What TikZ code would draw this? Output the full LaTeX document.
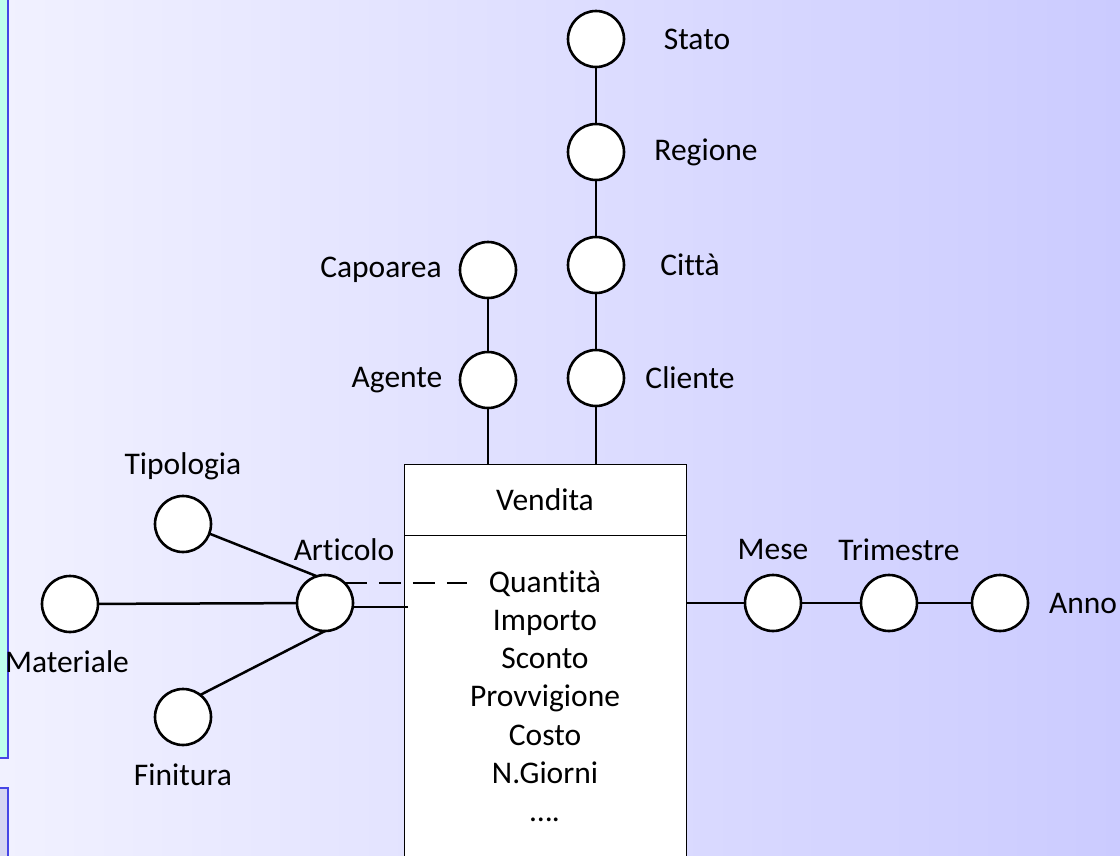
\documentclass[tikz,border=0pt]{standalone}
\usepackage{fontspec}
\setmainfont{Carlito}[Ligatures=NoCommon]
\usetikzlibrary{positioning}

\definecolor{bgleft}{RGB}{241,241,255}
\definecolor{bgright}{RGB}{203,203,255}
\definecolor{stripfill}{RGB}{190,255,236}
\definecolor{stripline}{RGB}{70,70,230}
\definecolor{panelfill}{RGB}{214,214,242}

\begin{document}
\begin{tikzpicture}[
    x=1pt, y=-1pt,
    on grid,
    every node/.style={
        inner sep=0pt,
        outer sep=0pt,
        font=\fontsize{31.5}{38}\selectfont,
    },
    attr/.style={
        draw=black,circle,
        fill=white,
        line width=2.6pt,
        minimum size=56pt,
    },
    factbox/.style n args={2}{
        draw=black,rectangle,
        fill=white,
        line width=1pt,
        minimum width=#1pt,
        minimum height=#2pt,
    },
    link/.style={
        line width=2.5pt,
    },
    dashlink/.style={
        line width=2.5pt,
        dash pattern=on 22pt off 12pt,
    },
]
    \useasboundingbox (0,0) rectangle (1120,855);
    \clip (0,0) rectangle (1120,855);

    % ~~~ slide background ~~~~~~~~~~~~~~~~~~~~~~~~~~~~~~~~~~~~~~~~
    \shade[left color=bgleft,right color=bgright] (0,0) rectangle (1120,855);
    \draw[stripline,fill=stripfill,line width=1.5pt] (-5,-5) rectangle (8,758);
    \draw[stripline,fill=panelfill,line width=1.5pt] (-5,788) rectangle (8,870);

    % ~~~ fact table ~~~~~~~~~~~~~~~~~~~~~~~~~~~~~~~~~~~~~~~~~~~~~~~~
    \node[factbox={282}{71},anchor=north] (vendita) at (545,464) {};
    \node at (545,500) {Vendita};
    \node[factbox={282}{400},anchor=north] (misure) at (vendita.south) {};
    \foreach \t [count=\i] in {Quantità,Importo,Sconto,Provvigione,Costo,N.Giorni,….}{
        \node[anchor=base] (m\i) at (545,{592+38.3*(\i-1)}) {\t};
    }

    % ~~~ hierarchies ~~~~~~~~~~~~~~~~~~~~~~~~~~~~~~~~~~~~~~~~~~~~~~~
    \node[attr] (stato)   at (596,39)  {};
    \node[attr] (regione) at (596,152) {};
    \node[attr] (citta)   at (596,265) {};
    \node[attr] (cliente) at (596,378) {};
    \node[attr] (capo)    at (488,270) {};
    \node[attr] (agente)  at (488,380) {};
    \node[attr] (art)     at (325,603) {};
    \node[attr] (tip)     at (183,524) {};
    \node[attr] (mat)     at (70,604)  {};
    \node[attr] (fin)     at (183,717) {};
    \node[attr] (mese)    at (773,603) {};
    \node[attr] (trim)    at (889,603) {};
    \node[attr] (anno)    at (1000,603) {};

    \node[right=101pt of stato]   {Stato};
    \node[right=110pt of regione] {Regione};
    \node[right=94pt of citta]    {Città};
    \node[right=94pt of cliente]  {Cliente};
    \node[left=107pt of capo]     {Capoarea};
    \node[left=91pt of agente]    {Agente};
    \node[above=58pt of tip]      {Tipologia};
    \node[below=58pt of fin]      {Finitura};
    \node[below=58pt of mat,xshift=-3pt] {Materiale};
    \node[above=53pt of art,xshift=19pt] {Articolo};
    \node[above=53pt of mese]     {Mese};
    \node[above=53pt of trim,xshift=10pt] {Trimestre};
    \node[right=83pt of anno]     {Anno};

    % ~~~ connectors ~~~~~~~~~~~~~~~~~~~~~~~~~~~~~~~~~~~~~~~~~~~~~~~~
    \draw[link] (stato) -- (regione) -- (citta) -- (cliente);
    \draw[link] (cliente) -- (cliente |- vendita.north);
    \draw[link] (capo) -- (agente) -- (agente |- vendita.north);
    \draw[link] (mat) -- (art);
    \draw[link] (tip.-20) -- (art.107);
    \draw[link] (fin.52) -- (art.south);
    \draw[link] (art.-8) -- ([xshift=4pt]art.-8 -| misure.west);
    \draw[dashlink] (art.45) -- ([xshift=-22pt]m1.west |- art.45);
    \draw[link] (misure.east |- mese) -- (mese) -- (trim) -- (anno);
\end{tikzpicture}
\end{document}
